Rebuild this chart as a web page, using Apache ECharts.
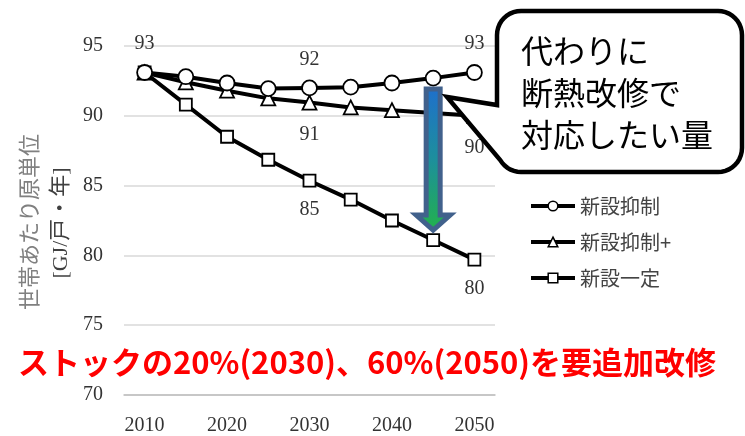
<!DOCTYPE html>
<html>
<head>
<meta charset="utf-8">
<script src="https://cdn.jsdelivr.net/npm/echarts@6/dist/echarts.min.js"></script>
<style>
  html, body { margin: 0; padding: 0; background: #fff; }
  #chart { width: 745px; height: 436px; }
</style>
</head>
<body>
<div id="chart"></div>
<script>
// Years on the category axis (every 5 years) and the values per scenario [GJ/戸・年]
const years = ['2010', '2015', '2020', '2025', '2030', '2035', '2040', '2045', '2050'];
const seriesNames = ['新設抑制', '新設抑制+', '新設一定'];
const shinsetsuYokusei = [93.1, 92.8, 92.35, 91.95, 92.0, 92.05, 92.35, 92.7, 93.1];
const shinsetsuYokuseiPlus = [93.1, 92.4, 91.8, 91.25, 90.95, 90.6, 90.4, 90.2, 90.0];
const shinsetsuIttei = [93.1, 90.8, 88.5, 86.85, 85.35, 84.0, 82.5, 81.1, 79.7];
const yMin = 70, yMax = 95, yStep = 5;

// Which points carry a value label
const labelIdxYokusei = [0, 4, 8];
const labelIdxPlus = [4, 8];
const labelIdxIttei = [4, 8];

// Gap arrow goes from 新設抑制 down to 新設一定 at this year
const arrowYear = '2045';

const SERIF = '"Liberation Serif", "Times New Roman", serif';
const JP = '"Noto Sans CJK JP", sans-serif';

function withLabels(values, idx, position, distance) {
  return values.map((v, i) => idx.includes(i)
    ? { value: v, label: { show: true, position: position, distance: distance } }
    : v);
}

function lineSeries(name, data, symbol, size) {
  return {
    name: name,
    type: 'line',
    data: data,
    symbol: symbol,
    symbolSize: size,
    showAllSymbol: true,
    lineStyle: { color: '#000', width: 4 },
    itemStyle: { color: '#fff', borderColor: '#000', borderWidth: 1.8 },
    label: {
      show: false,
      fontFamily: SERIF,
      fontSize: 20,
      color: '#333',
      formatter: p => String(Math.round(p.value))
    },
    emphasis: { disabled: true },
    animation: false
  };
}

// Points of a speech bubble: rounded box with a pointer on its left side
function arcPoints(cx, cy, r, a0, a1, n) {
  const pts = [];
  for (let k = 0; k <= n; k++) {
    const a = (a0 + (a1 - a0) * k / n) * Math.PI / 180;
    pts.push([cx + r * Math.cos(a), cy + r * Math.sin(a)]);
  }
  return pts;
}
function bubblePoints(x0, y0, x1, y1, r, tip, tailTopY) {
  return [].concat(
    arcPoints(x1 - r, y0 + r, r, -90, 0, 10),
    arcPoints(x1 - r, y1 - r, r, 0, 90, 10),
    arcPoints(x0 + r, y1 - r, r, 90, 150, 7),
    [tip, [x0, tailTopY]],
    arcPoints(x0 + r, y0 + r, r, 180, 270, 10)
  );
}

const chart = echarts.init(document.getElementById('chart'), null, { renderer: 'canvas' });

const tickAxisCommon = {
  type: 'category',
  data: years,
  boundaryGap: true,
  position: 'bottom'
};

chart.setOption({
  backgroundColor: '#fff',
  animation: false,
  grid: { left: 124, right: 250, top: 46, bottom: 37, containLabel: false },
  xAxis: [
    Object.assign({}, tickAxisCommon, {
      axisLine: { lineStyle: { color: '#bfbfbf', width: 1.5 } },
      axisTick: { alignWithLabel: true, interval: 0, length: 4, lineStyle: { color: '#bfbfbf', width: 1.5 } },
      axisLabel: {
        interval: (i) => i % 2 === 0,
        fontFamily: SERIF, fontSize: 20, color: '#333', margin: 21
      },
      splitLine: { show: false }
    }),
    Object.assign({}, tickAxisCommon, {
      axisLine: { show: false },
      axisTick: { inside: true, alignWithLabel: true, interval: 0, length: 4, lineStyle: { color: '#bfbfbf', width: 1.5 } },
      axisLabel: { show: false },
      splitLine: { show: false }
    })
  ],
  yAxis: {
    type: 'value',
    min: yMin, max: yMax, interval: yStep,
    axisLine: { show: false },
    axisTick: { show: false },
    axisLabel: { fontFamily: SERIF, fontSize: 20, color: '#333', margin: 21 },
    splitLine: { lineStyle: { color: '#d9d9d9', width: 1.5 } }
  },
  legend: {
    orient: 'vertical',
    left: 524,
    top: 191,
    itemWidth: 44,
    itemHeight: 12,
    itemGap: 16,
    data: seriesNames,
    lineStyle: { width: 4, color: '#000' },
    itemStyle: { borderWidth: 1.5, borderColor: '#000', color: '#fff' },
    textStyle: { fontFamily: JP, fontSize: 20, color: '#444' },
    selectedMode: false
  },
  series: [
    lineSeries(seriesNames[2], withLabels(shinsetsuIttei, labelIdxIttei, 'bottom', 12), 'rect', 12),
    lineSeries(seriesNames[1], withLabels(shinsetsuYokuseiPlus, labelIdxPlus, 'bottom', 14), 'triangle', 14),
    lineSeries(seriesNames[0], withLabels(shinsetsuYokusei, labelIdxYokusei, 'top', 10), 'circle', 15)
  ]
});

// Arrow between the two scenarios, placed from the data
const ai = years.indexOf(arrowYear);
const pTop = chart.convertToPixel({ seriesIndex: 2 }, [ai, shinsetsuYokusei[ai]]);
const pBot = chart.convertToPixel({ seriesIndex: 0 }, [ai, shinsetsuIttei[ai]]);
const cx = pTop[0];
const yTop = pTop[1] + 11;
const yTip = pBot[1] - 10;
const shaftHW = 7, headHW = 17, headLen = 15;

chart.setOption({
  graphic: [
    {
      type: 'text', x: 29, y: 222, rotation: Math.PI / 2, z: 10,
      style: { text: '世帯あたり原単位', font: '22px ' + JP, fill: '#808080', align: 'center', verticalAlign: 'middle' }
    },
    {
      type: 'text', x: 61, y: 223, rotation: Math.PI / 2, z: 10,
      style: { text: '[GJ/戸・年]', font: '22px ' + SERIF + ', "Noto Sans CJK JP"', fill: '#404040', align: 'center', verticalAlign: 'middle' }
    },
    {
      type: 'polygon', z: 50,
      shape: {
        points: [
          [cx - shaftHW, yTop], [cx + shaftHW, yTop], [cx + shaftHW, yTip - headLen],
          [cx + headHW, yTip - headLen], [cx, yTip], [cx - headHW, yTip - headLen],
          [cx - shaftHW, yTip - headLen]
        ]
      },
      style: {
        fill: new echarts.graphic.LinearGradient(0, 0, 0, 1, [
          { offset: 0, color: '#1f6fcc' },
          { offset: 0.5, color: '#1d8f9c' },
          { offset: 1, color: '#22b24a' }
        ]),
        stroke: '#41618c', lineWidth: 5, lineJoin: 'miter'
      }
    },
    {
      type: 'polygon', z: 60,
      shape: { points: bubblePoints(497, 11, 742, 172, 24, [447, 97], 105) },
      style: { fill: '#fff', stroke: '#000', lineWidth: 4.5, lineJoin: 'miter' }
    },
    {
      type: 'text', x: 521, y: 93, z: 61,
      style: {
        text: '代わりに\n断熱改修で\n対応したい量',
        font: '32px ' + JP, fill: '#000', lineHeight: 42,
        align: 'left', verticalAlign: 'middle'
      }
    },
    {
      type: 'text', x: 367, y: 362, z: 70,
      style: {
        text: 'ストックの20%(2030)、60%(2050)を要追加改修',
        font: 'bold 31px ' + JP, fill: '#ff0000', align: 'center', verticalAlign: 'middle'
      }
    }
  ]
});
</script>
</body>
</html>
